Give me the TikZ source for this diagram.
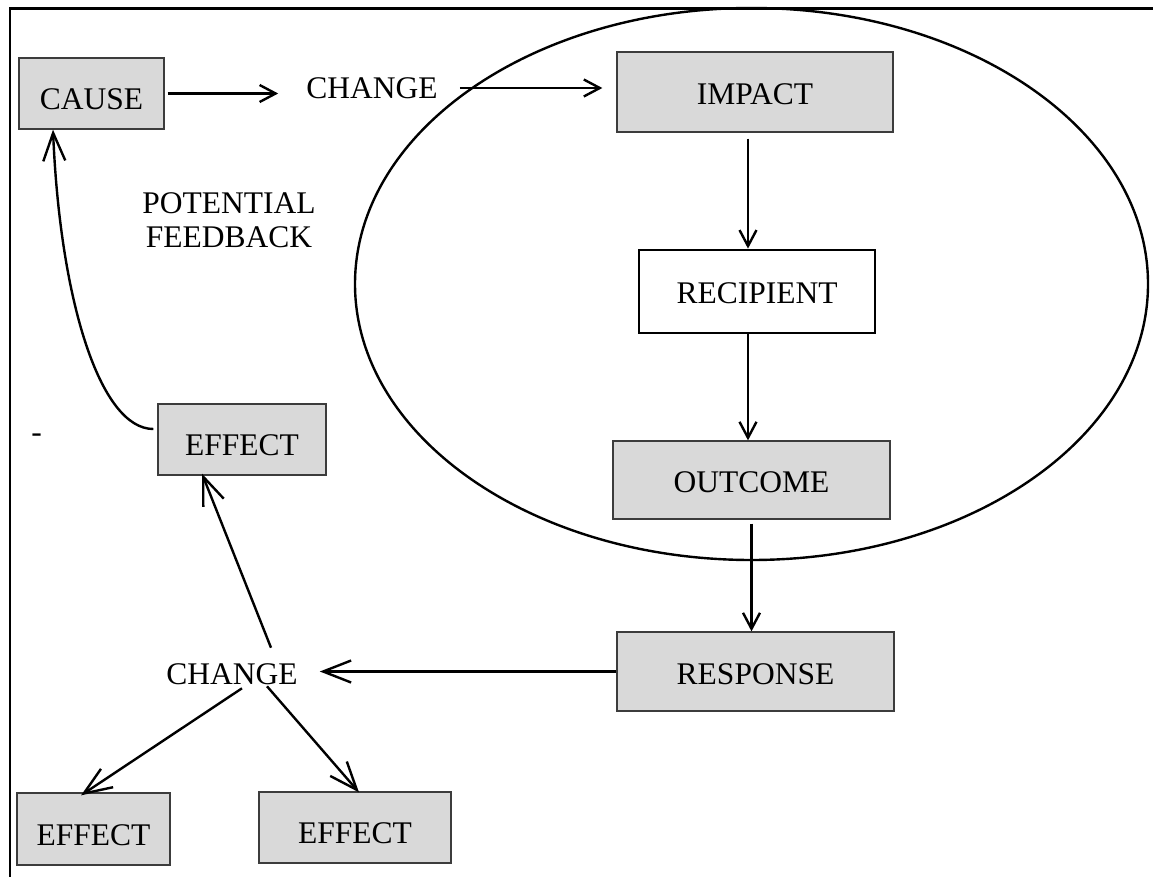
\documentclass[tikz,border=0pt]{standalone}
\usepackage{fontspec}
\setmainfont{Liberation Serif}
\usetikzlibrary{arrows.meta}
\definecolor{boxgrey}{HTML}{D9D9D9}
\definecolor{boxedge}{HTML}{3C3C3C}
\begin{document}
\begin{tikzpicture}[x=1pt,y=-1pt,
  every node/.style={font=\fontsize{31.5pt}{33.5pt}\selectfont, inner sep=0pt},
  greybox/.style={rectangle, draw=boxedge, line width=1.3pt, fill=boxgrey, text depth=0pt},
  whitebox/.style={rectangle, draw=black, line width=2.8pt, fill=white, text depth=0pt},
  plaintext/.style={rectangle},
  arrS/.style={draw, line width=2.4pt, -{Straight Barb[length=16pt,width=17pt]}},
  arrL/.style={draw, line width=2.4pt, -{Straight Barb[length=28pt,width=22pt]}}]
\useasboundingbox (0,0) rectangle (1153,877);

% page frame (top and left edges)
\draw[line width=2.4pt] (10,877) -- (10,8.5) -- (1153,8.5);

% system boundary
\draw[line width=2.4pt] (751.5,284) ellipse [x radius=396.5, y radius=276];

% boxes
\node[greybox, minimum width=145pt, minimum height=71pt, text height=33pt] (cause) at (91.5,93.5) {CAUSE};
\node[greybox, minimum width=276pt, minimum height=80pt, text height=26pt] (impact) at (755,92) {IMPACT};
\node[whitebox, minimum width=236pt, minimum height=83pt, text height=23pt] (recip) at (757,291.5) {RECIPIENT};
\node[greybox, minimum width=277pt, minimum height=78pt, text height=25pt] (outcome) at (751.5,480) {OUTCOME};
\node[greybox, minimum width=277pt, minimum height=79pt, text height=25pt] (response) at (755.5,671.5) {RESPONSE};
\node[greybox, minimum width=168pt, minimum height=71pt, text height=31pt] (effmid) at (242,439.5) {EFFECT};
\node[greybox, minimum width=153pt, minimum height=72pt, text height=32pt] (effbl) at (93.5,829) {EFFECT};
\node[greybox, minimum width=192pt, minimum height=71pt, text height=31pt] (effbr) at (355,827.5) {EFFECT};

% free labels
\node[plaintext] (chgtop) at (372,88) {CHANGE};
\node[plaintext] (chgbot) at (232,674) {CHANGE};
\node[plaintext, align=center] (fb) at (229,220) {POTENTIAL\\FEEDBACK};
\node[plaintext] (dash) at (36.5,438) {-};

% main chain
\draw[arrS, shorten <=3pt, shorten >=28pt] (cause.east) -- (cause.east -| chgtop.west);
\draw[arrS, shorten <=22pt, shorten >=14pt] (chgtop.east) -- (chgtop.east -| impact.west);
\draw[arrS, shorten <=6pt] ([xshift=-7pt]impact.south) -- ([xshift=-7pt]impact.south |- recip.north);
\draw[arrS] ([xshift=-9pt]recip.south) -- ([xshift=-9pt]recip.south |- outcome.north);
\draw[arrS, shorten <=4pt] (outcome.south) -- (outcome.south |- response.north);
\draw[arrL, shorten >=22pt] (response.west) -- (response.west -| chgbot.east);

% consequences of the second change
\draw[arrL] ([xshift=39pt,yshift=15.5pt]chgbot.north) -- ([xshift=-40pt,yshift=2pt]effmid.south);
\draw[arrL] ([xshift=10pt,yshift=-3.5pt]chgbot.south) -- ([xshift=-12.5pt,yshift=-3pt]effbl.north);
\draw[arrL] ([xshift=35pt,yshift=-1.5pt]chgbot.south) -- ([xshift=4pt,yshift=-1pt]effbr.north);

% feedback loop
\draw[arrL] ([xshift=-4pt,yshift=10.5pt]effmid.west) .. controls (100,429) and (60,300) .. ([xshift=-38.5pt]cause.south);
\end{tikzpicture}
\end{document}
